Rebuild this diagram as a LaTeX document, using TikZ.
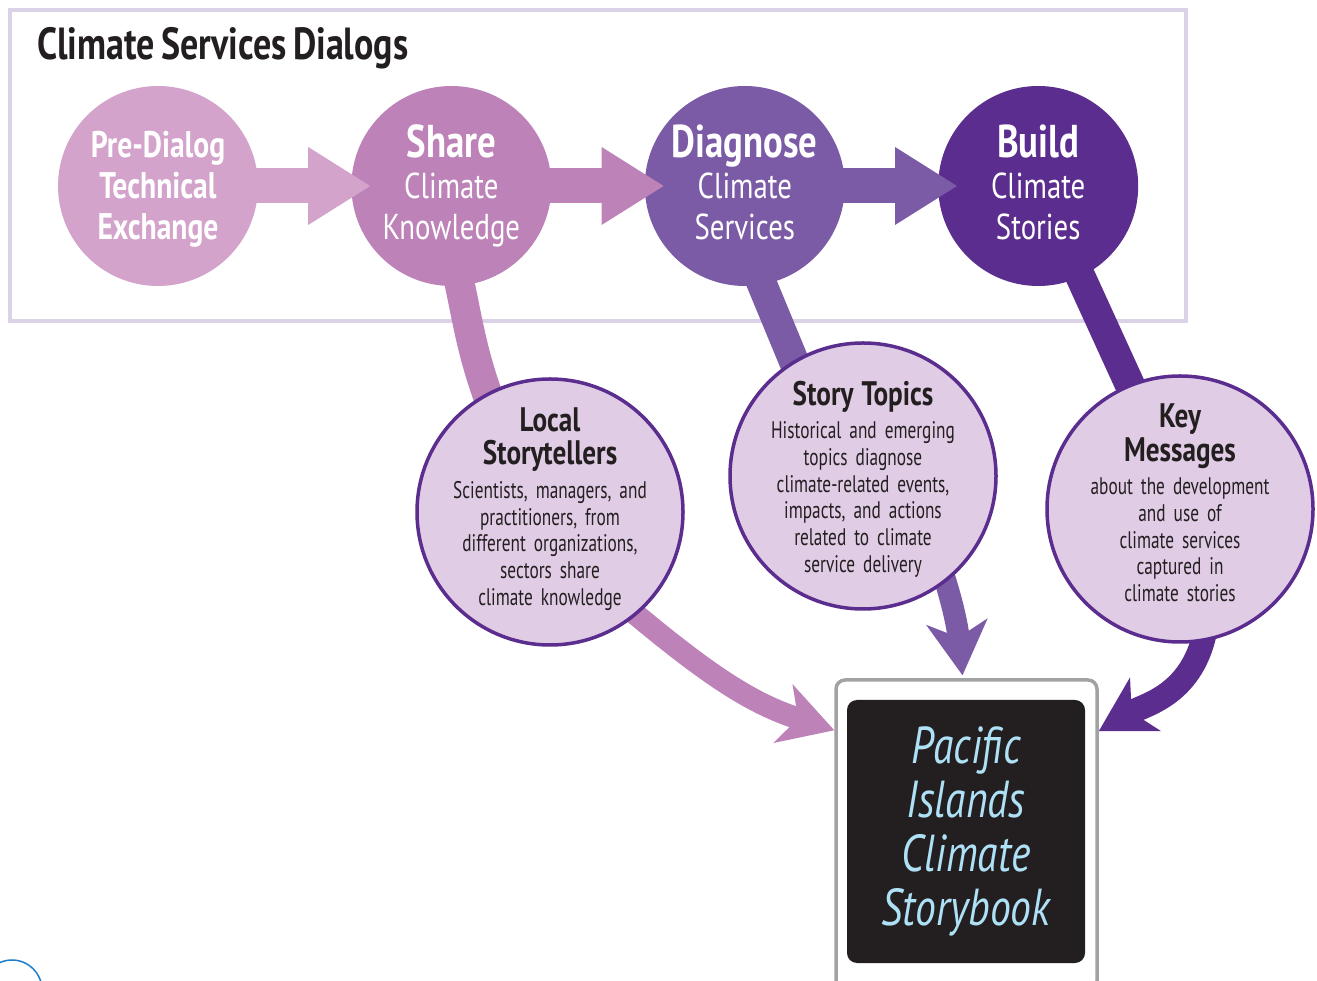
\documentclass[tikz,border=0pt]{standalone}
\usepackage{fontspec}
\setmainfont{PT Sans}[FakeStretch=0.8, WordSpace=0.7]
\newfontfamily\narrowsans{PT Sans}[FakeStretch=0.72, WordSpace=0.6]
\usetikzlibrary{arrows.meta,positioning}

\definecolor{dialogA}{HTML}{D3A3CB}
\definecolor{dialogB}{HTML}{BD82B8}
\definecolor{dialogC}{HTML}{7B5BA6}
\definecolor{dialogD}{HTML}{5B2D8E}
\definecolor{topicfill}{HTML}{E1CCE5}
\definecolor{framelilac}{HTML}{DBD2E7}
\definecolor{inkblack}{HTML}{231F20}
\definecolor{bookgray}{HTML}{A2A2A2}
\definecolor{bookblue}{HTML}{AEE0F6}
\definecolor{markblue}{HTML}{1B7FD0}

\newcommand{\dialoghead}{\fontsize{46}{44}\selectfont\bfseries}
\newcommand{\topichead}{\rmfamily\fontsize{34}{33}\selectfont\bfseries}

\pgfdeclarelayer{back}
\pgfsetlayers{back,main}

\begin{document}
\begin{tikzpicture}[
    x=1pt, y=1pt,
    node distance=93pt,
    dialog/.style={circle, minimum size=200pt, inner sep=0pt},
    dialogtext/.style={text=white, align=center, text width=200pt, font=\fontsize{36}{41}\selectfont},
    topic/.style={circle, draw=dialogD, line width=3.5pt, fill=topicfill, minimum size=266pt, inner sep=0pt},
    topictext/.style={text=inkblack, align=center, text width=250pt, font=\narrowsans\fontsize{24}{26.7}\selectfont},
    bookframe/.style={rectangle, rounded corners=9pt, draw=bookgray, line width=3.5pt, fill=white, minimum width=261pt, minimum height=310pt},
    bookcover/.style={rectangle, rounded corners=10pt, fill=inkblack, minimum width=238pt, minimum height=263pt, text=bookblue, align=center, font=\fontsize{52}{54}\selectfont\itshape},
    stem/.style={line width=30pt, shorten <=-12pt, shorten >=-12pt},
    flow/.style={-{Triangle[length=62pt, width=78pt, line width=0pt]}, line width=35pt, shorten <=-6pt},
    feed/.style={-{Stealth[length=54pt, width=62pt, inset=16pt, line width=0pt]}, line width=22pt, shorten <=-15pt}
]
    \useasboundingbox (0,0) rectangle (1317,980);

    % --- DIALOGS FRAME ---
    \begin{pgfonlayer}{back}
        \draw[framelilac, line width=4pt] (10,970) rectangle (1186,659);
    \end{pgfonlayer}
    \node[anchor=base west, inner sep=0pt, text=inkblack, font=\fontsize{45}{50}\selectfont\bfseries] (heading) at (37,920) {Climate Services Dialogs};

    % --- DIALOG STEPS ---
    \node[dialog, fill=dialogA] (pre) at (158,794) {};
    \node[dialog, fill=dialogB, right=of pre] (share) {};
    \node[dialog, fill=dialogC, right=of share] (diagnose) {};
    \node[dialog, fill=dialogD, right=of diagnose] (build) {};

    \node[dialogtext, font=\fontsize{37}{41}\selectfont\bfseries, yshift=-3pt] (pre-txt) at (pre) {Pre-Dialog\\Technical\\Exchange};
    \node[dialogtext] (share-txt) at (share) {{\dialoghead Share\par}Climate\\Knowledge};
    \node[dialogtext, yshift=4pt] (diagnose-txt) at (diagnose) {{\dialoghead Diagnose\par}Climate\\Services};
    \node[dialogtext, yshift=4pt] (build-txt) at (build) {{\dialoghead Build\par}Climate\\Stories};

    \draw[flow, dialogA] (pre.east) -- ([xshift=19pt]share.west);
    \draw[flow, dialogB] (share.east) -- ([xshift=19pt]diagnose.west);
    \draw[flow, dialogC] (diagnose.east) -- ([xshift=19pt]build.west);

    % --- STORY PARTS ---
    \node[topic] (local) at (550,468) {};
    \node[topic] (topics) at (863,504) {};
    \node[topic] (keymsg) at (1180,471) {};

    \node[topictext, yshift=3pt] (local-txt) at (local) {{\topichead Local\\Storytellers\par}\vspace{7pt}Scientists, managers, and\\practitioners, from\\different organizations,\\sectors share\\climate knowledge};
    \node[topictext, yshift=-3pt] (topics-txt) at (topics) {{\topichead Story Topics\par}\vspace{7pt}Historical and emerging\\topics diagnose\\climate-related events,\\impacts, and actions\\related to climate\\service delivery};
    \node[topictext, yshift=6pt] (keymsg-txt) at (keymsg) {{\topichead Key\\Messages\par}\vspace{7pt}about the development\\and use of\\climate services\\captured in\\climate stories};

    % --- STORYBOOK ---
    \node[bookframe] (book) at (966.5,145) {};
    \node[bookcover] (cover) at (966,148.5) {Pacific\\Islands\\Climate\\Storybook};

    % --- LINKS ---
    \begin{pgfonlayer}{back}
        \draw[stem, dialogB] (share.-85) to[out=-78, in=110] (local.118);
        \draw[stem, dialogC] (diagnose.-80) -- (topics.121);
        \draw[stem, dialogD] (build.-65) -- (keymsg.112);

        \draw[feed, dialogB] (local.-50) to[out=-40, in=162] ([yshift=-52pt]book.north west);
        \draw[feed, dialogC] (topics.-52) to[out=-72, in=96] ([xshift=-4pt,yshift=3pt]book.north);
        \draw[feed, dialogD, line width=24pt] (keymsg.-80) to[out=-100, in=30] ([yshift=-53pt]book.north east);
    \end{pgfonlayer}

    \draw[markblue, line width=1.5pt] (12,-10) circle (30pt);
\end{tikzpicture}
\end{document}
